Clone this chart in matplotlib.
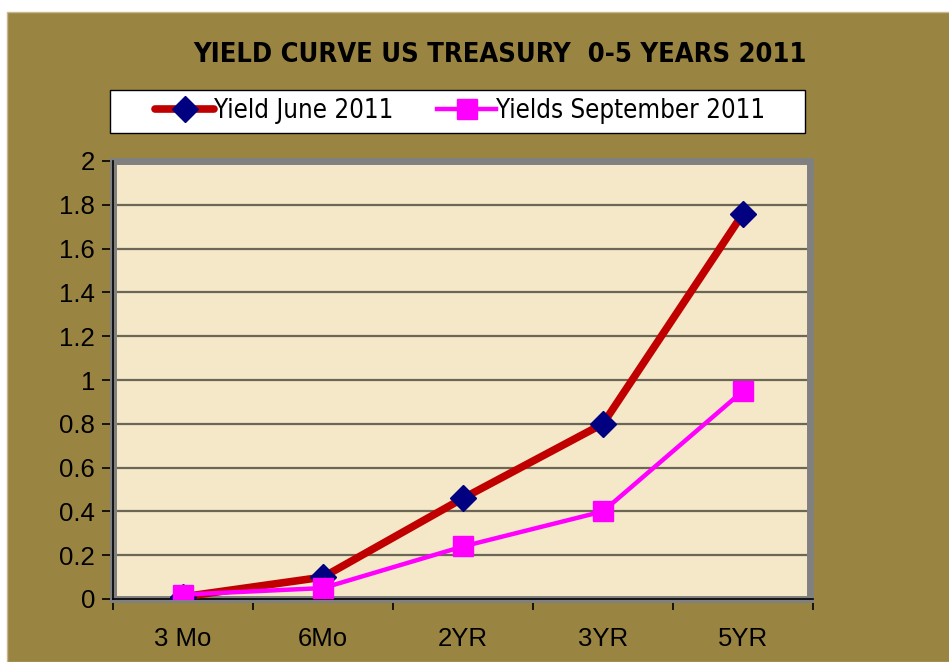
import matplotlib
matplotlib.use("Agg")
import matplotlib.pyplot as plt
from matplotlib.patches import Rectangle

categories = ["3 Mo", "6Mo", "2YR", "3YR", "5YR"]
yield_june = [0.01, 0.10, 0.46, 0.80, 1.76]
yield_sept = [0.02, 0.05, 0.24, 0.40, 0.95]
yticks = [0, 0.2, 0.4, 0.6, 0.8, 1, 1.2, 1.4, 1.6, 1.8, 2]
ytick_labels = ["0", "0.2", "0.4", "0.6", "0.8", "1", "1.2", "1.4", "1.6", "1.8", "2"]

W, H = 949, 662
OLIVE = "#998442"
plt.rcParams["font.family"] = ["Liberation Sans", "DejaVu Sans"]

fig = plt.figure(figsize=(W / 100, H / 100), dpi=100, facecolor="white")
fig.patches.append(Rectangle((7 / W, 0), 1, 1 - 12 / H, transform=fig.transFigure,
                             facecolor=OLIVE, edgecolor="#c8b890", linewidth=1, zorder=-10))
# legend box
fig.patches.append(Rectangle((110 / W, 1 - 133 / H), 695 / W, 43 / H, transform=fig.transFigure,
                             facecolor="white", edgecolor="black", linewidth=1.0, zorder=-5))

ax = fig.add_axes([113 / W, (H - 599) / H, 700 / W, 438 / H])
ax.set_zorder(1)
ax.set_facecolor("#f5e8c8")
x = list(range(len(categories)))

ax.plot(x, yield_june, color="#c00000", lw=5.5, marker="D", ms=13,
        mfc="#000080", mec="#000080", label="Yield June 2011", zorder=4,
        solid_capstyle="round")
ax.plot(x, yield_sept, color="#ff00ff", lw=3.2, marker="s", ms=14,
        mfc="#ff00ff", mec="#ff00ff", label="Yields September 2011", zorder=5)

ax.set_xlim(-0.5, 4.5)
ax.set_ylim(0, 2)
ax.set_yticks(yticks)
ax.set_yticklabels(ytick_labels)
ax.set_xticks(x)
ax.set_xticklabels(categories)
ax.set_xticks([-0.5, 0.5, 1.5, 2.5, 3.5, 4.5], minor=True)
ax.tick_params(axis="x", which="major", length=0, pad=20, labelsize=18.5)
ax.tick_params(axis="x", which="minor", length=8, width=1.2, direction="out", color="black")
ax.tick_params(axis="y", length=8, width=1.2, direction="out", labelsize=18.5, pad=5)
ax.grid(axis="y", color="#6b6655", lw=1.6, zorder=1)
ax.set_axisbelow(True)

for s in ["top", "right"]:
    ax.spines[s].set_visible(False)
for s in ["left", "bottom"]:
    ax.spines[s].set_color("black")
    ax.spines[s].set_linewidth(1.2)
    ax.spines[s].set_zorder(3)

ax.add_patch(Rectangle((0, 0), 0.996, 1, transform=ax.transAxes, fill=False,
                       edgecolor="#808080", linewidth=5, clip_on=False, zorder=2))

fig.text(500 / W, 1 - 55 / H, "YIELD CURVE US TREASURY  0-5 YEARS 2011",
         ha="center", va="center", fontsize=19.5, color="black", weight="bold",
         family="DejaVu Sans", fontstretch="condensed")

leg = fig.legend(loc="center left", bbox_to_anchor=(155 / W, 1 - 111 / H),
                 ncol=2, frameon=False,
                 prop={"size": 18.5, "family": "DejaVu Sans", "stretch": "condensed"},
                 handlelength=2.3, columnspacing=1.7,
                 borderaxespad=0, borderpad=0, handletextpad=0.0)
leg.set_zorder(5)

fig.savefig("out.png", dpi=100, facecolor=fig.get_facecolor())
